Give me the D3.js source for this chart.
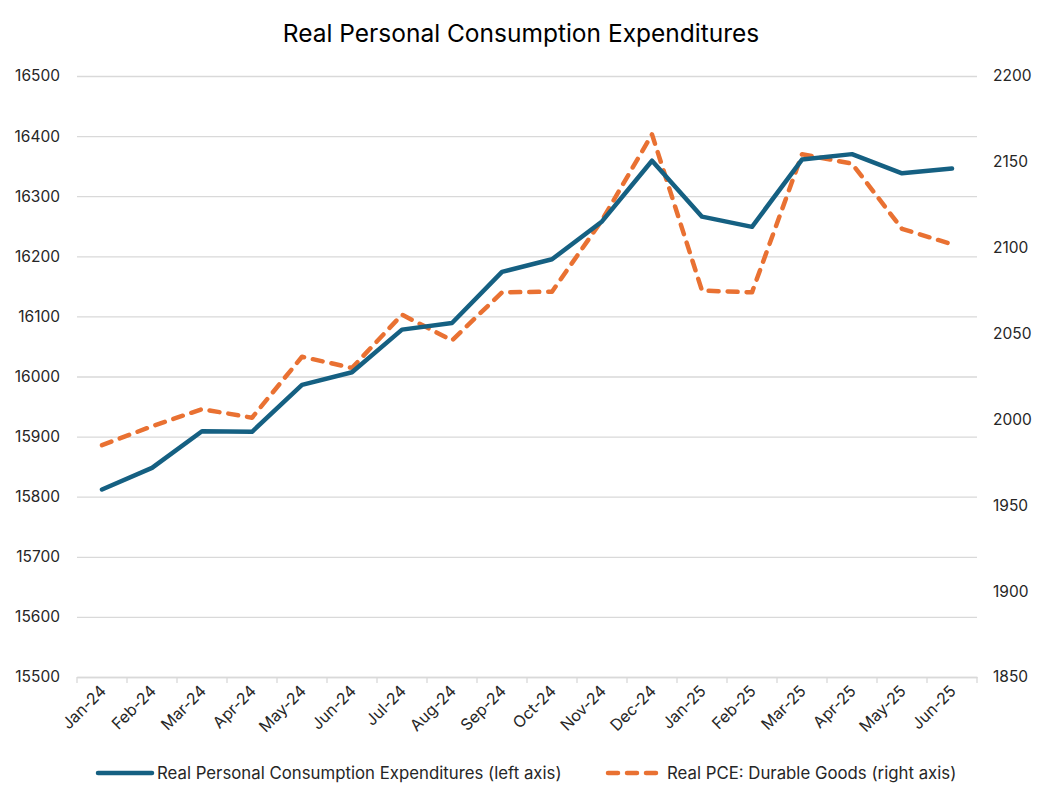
<!DOCTYPE html>
<html>
<head>
<meta charset="utf-8">
<script src="https://cdn.jsdelivr.net/npm/d3@7"></script>
<style>
  body { margin: 0; background: #fff; }
  svg { font-family: "Inter", "Open Sans", sans-serif; }
</style>
</head>
<body>
<svg id="chart"></svg>
<script>
const months = ["Jan-24", "Feb-24", "Mar-24", "Apr-24", "May-24", "Jun-24", "Jul-24", "Aug-24", "Sep-24",
  "Oct-24", "Nov-24", "Dec-24", "Jan-25", "Feb-25", "Mar-25", "Apr-25", "May-25", "Jun-25"];
const pce = [15812, 15848, 15909, 15908, 15986, 16007, 16078, 16089, 16174,
  16195, 16258, 16359, 16266, 16249, 16361, 16370, 16338, 16346];
const durables = [1985, 1996, 2006, 2001, 2036.5, 2030, 2061, 2046, 2074,
  2074.4, 2116, 2166, 2075, 2074, 2154.4, 2149, 2111, 2102];
const leftTicks = [15500, 15600, 15700, 15800, 15900, 16000, 16100, 16200, 16300, 16400, 16500];
const rightTicks = [1850, 1900, 1950, 2000, 2050, 2100, 2150, 2200];
const seriesNames = ["Real Personal Consumption Expenditures (left axis)", "Real PCE: Durable Goods (right axis)"];

const width = 1044, height = 804;
const margin = { top: 76, right: 67, bottom: 127, left: 77 };
const blue = "#156082", orange = "#e97132";

const svg = d3.select("#chart").attr("width", width).attr("height", height);

const x = d3.scaleBand().domain(months).range([margin.left, width - margin.right]).padding(0);
const yL = d3.scaleLinear().domain([15500, 16500]).range([height - margin.bottom, margin.top]);
const yR = d3.scaleLinear().domain([1850, 2200]).range([height - margin.bottom, margin.top]);
const cx = (d) => x(d) + x.bandwidth() / 2;

// title
svg.append("text")
  .attr("x", 521)
  .attr("y", 42)
  .attr("text-anchor", "middle")
  .attr("font-size", 24.5)
  .attr("fill", "#000")
  .text("Real Personal Consumption Expenditures");

// gridlines from the left axis
svg.append("g")
  .attr("transform", `translate(${margin.left},0)`)
  .call(d3.axisLeft(yL).tickValues(leftTicks).tickSize(-(width - margin.left - margin.right)).tickFormat(""))
  .call((g) => g.select(".domain").remove())
  .call((g) => g.selectAll("line").attr("stroke", "#d9d9d9").attr("stroke-width", 1.3));

// left labels
svg.append("g")
  .attr("transform", `translate(${margin.left},0)`)
  .call(d3.axisLeft(yL).tickValues(leftTicks).tickSize(0).tickPadding(17).tickFormat(d3.format("d")))
  .call((g) => g.select(".domain").remove())
  .call((g) => g.selectAll("text").attr("font-size", 15.5).attr("fill", "#262626").attr("font-family", "Inter, sans-serif"));

// right labels
svg.append("g")
  .attr("transform", `translate(${width - margin.right},0)`)
  .call(d3.axisRight(yR).tickValues(rightTicks).tickSize(0).tickPadding(16).tickFormat(d3.format("d")))
  .call((g) => g.select(".domain").remove())
  .call((g) => g.selectAll("text").attr("font-size", 15.5).attr("fill", "#262626").attr("font-family", "Inter, sans-serif"));

// x axis: ticks sit on band boundaries
const xAxisG = svg.append("g").attr("transform", `translate(0,${height - margin.bottom})`);
xAxisG.call(d3.axisBottom(x).tickSize(0).tickPadding(0))
  .call((g) => g.select(".domain").attr("stroke", "#d9d9d9").attr("stroke-width", 1.3))
  .call((g) => g.selectAll(".tick text")
    .attr("font-size", 16)
    .attr("fill", "#262626")
    .attr("font-family", "Inter, sans-serif")
    .attr("text-anchor", "end")
    .attr("dy", null)
    .attr("transform", "translate(5,15) rotate(-45)"));
xAxisG.selectAll(".bound")
  .data(months.concat(["end"]))
  .join("line")
  .attr("x1", (d, i) => (i < months.length ? x(d) : x(months[months.length - 1]) + x.bandwidth()))
  .attr("x2", (d, i) => (i < months.length ? x(d) : x(months[months.length - 1]) + x.bandwidth()))
  .attr("y1", 0)
  .attr("y2", 6)
  .attr("stroke", "#d9d9d9")
  .attr("stroke-width", 1.3);

// lines
const linePce = d3.line().x((d, i) => cx(months[i])).y((d) => yL(d));
const lineDur = d3.line().x((d, i) => cx(months[i])).y((d) => yR(d));

svg.append("path")
  .datum(durables)
  .attr("d", lineDur)
  .attr("fill", "none")
  .attr("stroke", orange)
  .attr("stroke-width", 4.5)
  .attr("stroke-dasharray", "10,9")
  .attr("stroke-linecap", "round")
  .attr("stroke-linejoin", "round");

svg.append("path")
  .datum(pce)
  .attr("d", linePce)
  .attr("fill", "none")
  .attr("stroke", blue)
  .attr("stroke-width", 4.5)
  .attr("stroke-linejoin", "round")
  .attr("stroke-linecap", "round");

// legend
const legend = svg.append("g").attr("font-size", 16.8).attr("fill", "#262626");
const legendItems = [
  { name: seriesNames[0], color: blue, dash: null, x: 98 },
  { name: seriesNames[1], color: orange, dash: "10,9", x: 608 }
];
legendItems.forEach((item) => {
  legend.append("line")
    .attr("x1", item.x)
    .attr("x2", item.x + 54)
    .attr("y1", 773)
    .attr("y2", 773)
    .attr("stroke", item.color)
    .attr("stroke-width", 4.5)
    .attr("stroke-linecap", "round")
    .attr("stroke-dasharray", item.dash);
  legend.append("text")
    .attr("x", item.x + 59)
    .attr("y", 779)
    .attr("fill", "#262626")
    .text(item.name);
});
</script>
</body>
</html>
